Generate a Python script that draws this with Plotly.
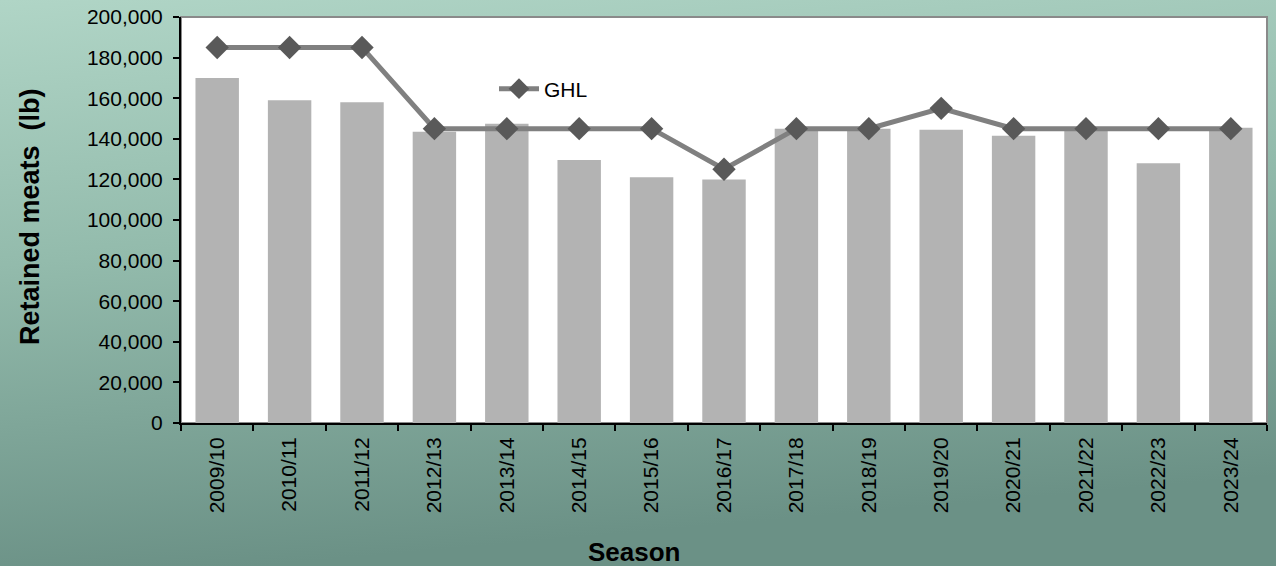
import base64
import plotly.graph_objects as go

seasons = ["2009/10", "2010/11", "2011/12", "2012/13", "2013/14", "2014/15", "2015/16",
           "2016/17", "2017/18", "2018/19", "2019/20", "2020/21", "2021/22", "2022/23", "2023/24"]
retained = [170000, 159000, 158000, 143500, 147400, 129500, 121000, 120000,
            145000, 145000, 144500, 141500, 144500, 128000, 145500]
ghl = [185000, 185000, 185000, 145000, 145000, 145000, 145000, 125000,
       145000, 145000, 155000, 145000, 145000, 145000, 145000]

W, H = 1276, 566
L, R, T, B = 181, 9, 17, 143
pw, ph = W - L - R, H - T - B

svg = f'''<svg xmlns="http://www.w3.org/2000/svg" width="{W}" height="{H}" viewBox="0 0 {W} {H}" preserveAspectRatio="none">
<defs><linearGradient id="g" x1="0" y1="0" x2="0.2" y2="1">
<stop offset="0" stop-color="#b0d5c6"/><stop offset="0.45" stop-color="#93bbac"/><stop offset="1" stop-color="#6b9186"/>
</linearGradient></defs><rect width="{W}" height="{H}" fill="url(#g)"/></svg>'''
src = "data:image/svg+xml;base64," + base64.b64encode(svg.encode()).decode()

fig = go.Figure()
fig.add_trace(go.Bar(x=seasons, y=retained, marker=dict(color="#b3b3b3", line=dict(width=0)),
                     showlegend=False, name="Retained"))
fig.add_trace(go.Scatter(x=seasons, y=ghl, mode="lines+markers", name="GHL",
                         line=dict(color="#808080", width=5),
                         marker=dict(symbol="diamond", size=18, color="#595959")))

fig.update_layout(
    width=W, height=H,
    margin=dict(l=L, r=R, t=T, b=B, pad=0, autoexpand=False),
    paper_bgcolor="#8fb5a7", plot_bgcolor="white",
    font=dict(family="Liberation Sans, Arial", size=21, color="black"),
    bargap=0.4,
    showlegend=True,
    legend=dict(x=(494 - L) / pw, y=(H - B - 89) / ph, xanchor="left", yanchor="middle",
                bgcolor="rgba(0,0,0,0)", font=dict(size=21), itemwidth=40, borderwidth=0),
    images=[dict(source=src, xref="paper", yref="paper", x=-L / pw, y=1 + T / ph,
                 sizex=W / pw, sizey=H / ph, xanchor="left", yanchor="top",
                 sizing="stretch", layer="below")],
    shapes=[dict(type="rect", xref="paper", yref="paper", x0=0, x1=1, y0=0, y1=1,
                 fillcolor="white", line=dict(color="#8a8a8a", width=2), layer="below")],
    annotations=[
        dict(text="<b>Season</b>", xref="paper", yref="paper", x=(634 - L) / pw, y=(H - B - 552) / ph,
             xanchor="center", yanchor="middle", showarrow=False, font=dict(size=26)),
        dict(text="<b>Retained meats&nbsp; (lb)</b>", xref="paper", yref="paper",
             x=(30 - L) / pw, y=(H - B - 217) / ph, xanchor="center", yanchor="middle",
             textangle=-90, showarrow=False, font=dict(size=27)),
    ],
)
fig.update_xaxes(range=[-0.5, len(seasons) - 0.5], automargin=False, ticklabelstandoff=4,
                 showline=True, linecolor="black", linewidth=2, ticks="outside", tickson="boundaries",
                 ticklen=6, tickwidth=2, tickcolor="black", tickangle=-90, showgrid=False)
fig.update_yaxes(range=[0, 200000], dtick=20000, tickformat=",", automargin=False, ticklabelstandoff=6,
                 showline=True, linecolor="black",
                 linewidth=2, ticks="outside", ticklen=6, tickwidth=2, tickcolor="black",
                 showgrid=False, zeroline=False)

fig.write_html("out.html", config={"displayModeBar": False},
               post_script="document.body.style.margin='0';document.body.style.overflow='hidden';")
